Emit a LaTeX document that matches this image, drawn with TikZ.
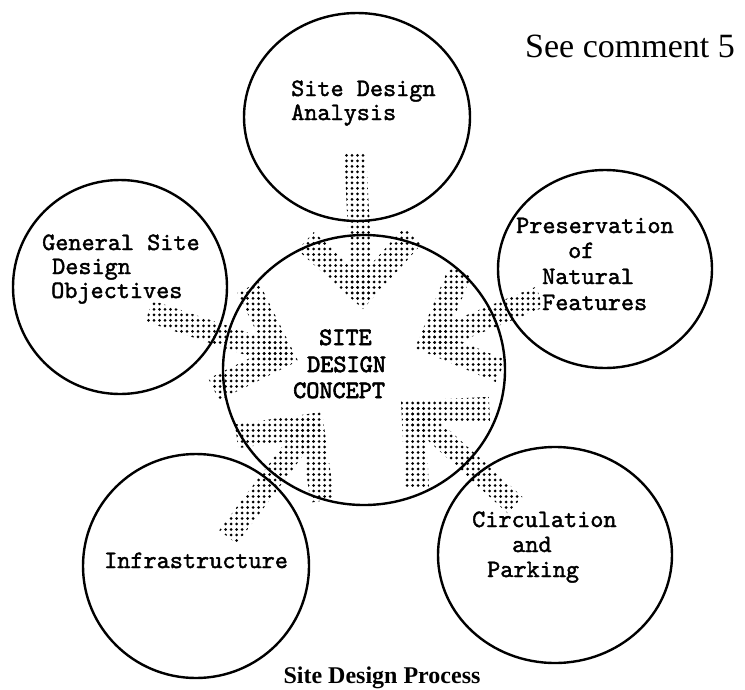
\documentclass[tikz,border=0pt]{standalone}
\usepackage{fontspec}
\setmainfont{Liberation Serif}
\newfontfamily\typew[FakeBold=1.6]{lmmono10-regular.otf}
\newfontfamily\typewb[FakeBold=2.6]{lmmono10-regular.otf}
\usetikzlibrary{calc,patterns.meta,shapes.geometric}
\newcommand\stiparrow[2]{%
  \coordinate (#2-b) at ($(#2)!11pt!(#1)$);
  \coordinate (#2-i) at ($(#2)!34pt!(#1)$);
  \fill[stip] ($(#1)!11pt!90:(#2)$) -- ($(#2-b)!11pt!-90:(#1)$) -- ($(#2-b)!11pt!90:(#1)$) -- ($(#1)!11pt!-90:(#2)$) -- cycle;
  \fill[stip] (#2) -- ($(#2)!88pt!45:(#1)$) -- ($(#2-i)!64pt!45:(#1)$) -- (#2-i) -- ($(#2-i)!64pt!-45:(#1)$) -- ($(#2)!88pt!-45:(#1)$) -- cycle;
}
\begin{document}
\begin{tikzpicture}[x={(1pt,0)}, y={(0,-1pt)},
  bub/.style={draw, line width=2.4pt, ellipse, inner sep=0pt},
  tw/.style={font=\typew\fontsize{25}{27}\selectfont, inner sep=0pt, anchor=base west},
  twb/.style={font=\typewb\fontsize{25}{27}\selectfont, inner sep=0pt, anchor=base west},
  stip/.style={pattern={Dots[distance=5.5pt,radius=1.5pt]}, pattern color=black},
  note/.style={font=\fontsize{34}{36}\selectfont, inner sep=0pt, anchor=base west},
  caption/.style={font=\bfseries\fontsize{24}{26}\selectfont, inner sep=0pt, anchor=base}]
\fill[white] (0,0) rectangle (745,689);
\useasboundingbox (0,0) rectangle (745,689);

% bubbles
\node[bub, minimum width=282pt, minimum height=270pt] (concept) at (364,370) {};
\node[bub, minimum width=226pt, minimum height=208pt] (analysis) at (357,117) {};
\node[bub, minimum width=214pt, minimum height=214pt] (objectives) at (120,287) {};
\node[bub, minimum width=214pt, minimum height=198pt] (natural) at (605,269) {};
\node[bub, minimum width=226pt, minimum height=224pt] (infra) at (196,566) {};
\node[bub, minimum width=234pt, minimum height=216pt] (circ) at (555,555) {};

% arrow ends
\coordinate (s1) at (355,152); \coordinate (a1) at (363,309);
\coordinate (s2) at (149,311); \coordinate (a2) at (298,361);
\coordinate (s3) at (540,297); \coordinate (a3) at (415,348);
\coordinate (s4) at (228,537); \coordinate (a4) at (322,412);
\coordinate (s5) at (515,505); \coordinate (a5) at (401,401);
\stiparrow{s1}{a1}
\stiparrow{s2}{a2}
\stiparrow{s3}{a3}
\stiparrow{s4}{a4}
\stiparrow{s5}{a5}

% texts
\node[tw] (t1a) at (291,96) {Site Design};
\node[tw] (t1b) at (291,120) {Analysis};

\node[tw] (t2a) at (42,250) {General Site};
\node[tw] (t2b) at (52,274) {Design};
\node[tw] (t2c) at (51,298) {Objectives};

\node[tw] (t3a) at (516,233) {Preservation};
\node[tw] (t3b) at (568,258) {of};
\node[tw] (t3c) at (542,284) {Natural};
\node[tw] (t3d) at (542,310) {Features};

\node[tw] (t4a) at (104,568) {Infrastructure};

\node[tw] (t5a) at (472,527) {Circulation};
\node[tw] (t5b) at (512,552) {and};
\node[tw] (t5c) at (487,577) {Parking};

\node[twb] (t0a) at (319,345) {SITE};
\node[twb] (t0b) at (307,372) {DESIGN};
\node[twb] (t0c) at (293,398) {CONCEPT};

\node[note] (note) at (525,57) {See comment 5};
\node[caption] (cap) at (382,683) {Site Design Process};
\end{tikzpicture}
\end{document}
